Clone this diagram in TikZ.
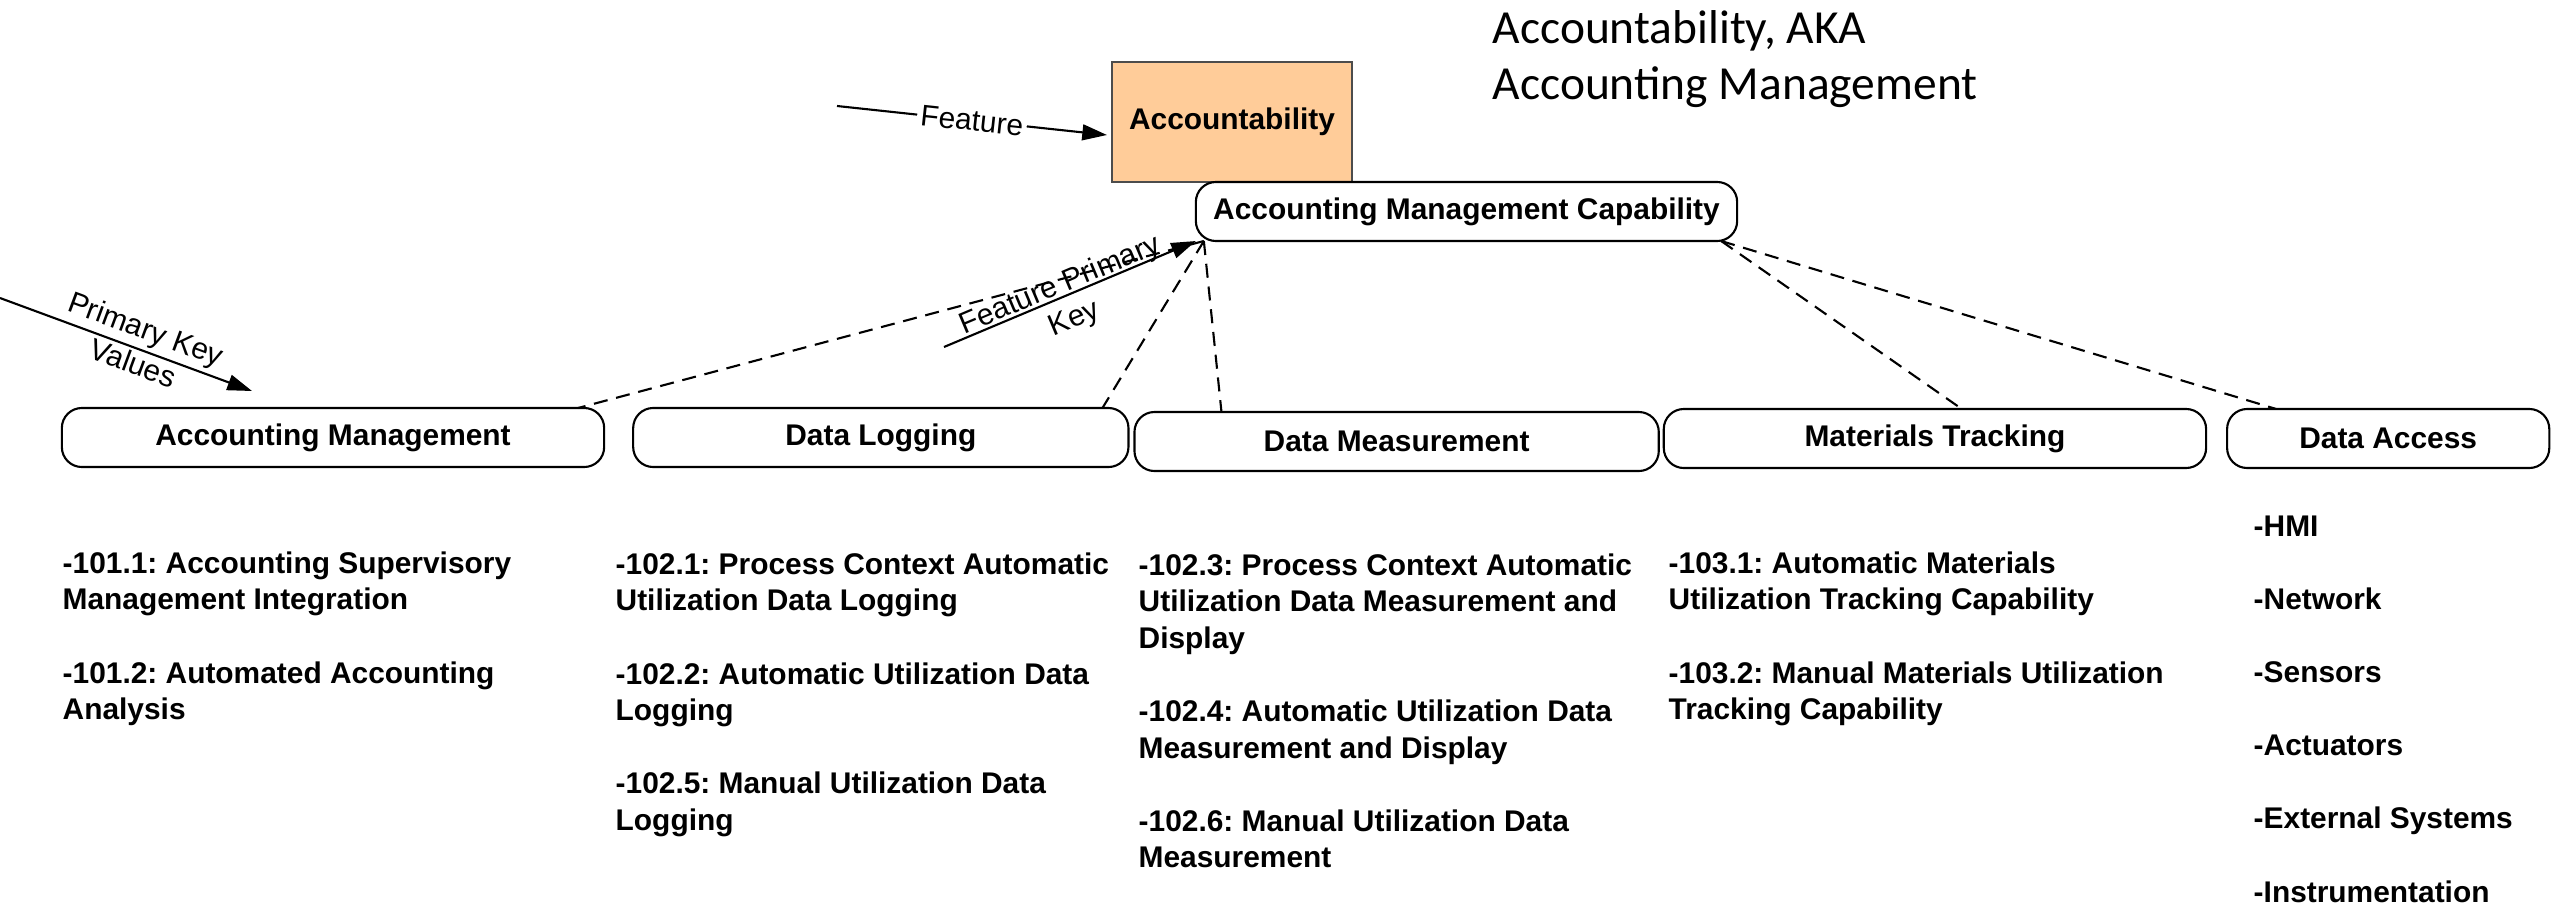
\documentclass[tikz,border=0pt]{standalone}
\usepackage{fontspec}
\setmainfont{Liberation Sans}
\newfontfamily\titlefont{Carlito}
\usetikzlibrary{positioning, arrows.meta, calc}
\frenchspacing

\definecolor{featfill}{RGB}{255,204,153}

\tikzset{
  bodyfont/.style={font=\fontsize{8.5}{10.4}\selectfont},
  capbox/.style={draw, rounded corners=0.2cm, minimum height=0.59cm, outer sep=0pt, line width=0.6pt, font=\bfseries\fontsize{8.5}{10.4}\selectfont},
  featbox/.style={draw=black!70, fill=featfill, minimum width=2.4cm, minimum height=1.2cm, outer sep=0pt, line width=0.6pt, font=\bfseries\fontsize{8.5}{10.4}\selectfont},
  reqlist/.style={anchor=north west, align=left, inner sep=0pt, font=\bfseries\fontsize{8.5}{10.4}\selectfont},
  link/.style={dash pattern=on 4pt off 2.5pt, line width=0.6pt},
  keyarrow/.style={-{Triangle[length=7pt,width=4.5pt]}, line width=0.6pt}
}

\begin{document}
\begin{tikzpicture}[x=0.01cm, y=-0.01cm]
        \useasboundingbox (0,0) rectangle (2552,903);

        \node[anchor=north west, align=left, inner sep=0pt, font=\titlefont\fontsize{13.5}{15.8}\selectfont] (title) at (1492,10) {Accountability, AKA\\Accounting Management};

        \node[featbox] (acct) at (1232,122) {Accountability};
        \node[capbox, minimum width=5.41cm] (cap) at (1466.5,211.5) {Accounting Management Capability};

        \node[capbox, minimum width=5.42cm] (accmgmt) at (333,437.5) {Accounting Management};
        \node[capbox, minimum width=4.95cm] (datalog) [right=0.29cm of accmgmt] {Data Logging};
        \node[capbox, minimum width=5.24cm] (datameas) [right=0.06cm of datalog, yshift=-0.04cm] {Data Measurement};
        \node[capbox, minimum width=5.42cm] (mattrack) [right=0.05cm of datameas, yshift=0.03cm] {Materials Tracking};
        \node[capbox, minimum width=3.22cm] (dataaccess) [right=0.21cm of mattrack] {Data Access};

        \node[reqlist] (req101) at (62,551) {-101.1: Accounting Supervisory\\Management Integration\\[10.4pt]-101.2: Automated Accounting\\Analysis};
        \node[reqlist] (req102a) at (615,552) {-102.1: Process Context Automatic\\Utilization Data Logging\\[10.4pt]-102.2: Automatic Utilization Data\\Logging\\[10.4pt]-102.5: Manual Utilization Data\\Logging};
        \node[reqlist] (req102b) at (1138,553) {-102.3: Process Context Automatic\\Utilization Data Measurement and\\Display\\[10.4pt]-102.4: Automatic Utilization Data\\Measurement and Display\\[10.4pt]-102.6: Manual Utilization Data\\Measurement};
        \node[reqlist] (req103) at (1668,551) {-103.1: Automatic Materials\\Utilization Tracking Capability\\[10.4pt]-103.2: Manual Materials Utilization\\Tracking Capability};
        \node[reqlist] (access) at (2253,515) {-HMI\\[10.4pt]-Network\\[10.4pt]-Sensors\\[10.4pt]-Actuators\\[10.4pt]-External Systems\\[10.4pt]-Instrumentation};

        \coordinate (fstart) at (837,106);
        \coordinate (pkstart) at (0,298);
        \coordinate (pkend) at (252,391);
        \coordinate (fpkstart) at (944,347);
        \coordinate (capL) at ($(cap.south west)+(8,0)$);
        \coordinate (capR) at ($(cap.south east)+(-16,0)$);

        \draw[keyarrow] (fstart) -- node[sloped, fill=white, inner sep=1pt, bodyfont] {Feature} ($(acct.west)+(-5,13)$);
        \draw[keyarrow] (pkstart) -- node[sloped, align=center, pos=0.55, yshift=1pt, inner sep=0pt, bodyfont] {Primary Key\\Values} (pkend);
        \draw[keyarrow] (fpkstart) -- node[sloped, align=center, pos=0.48, yshift=-2pt, inner sep=0pt, bodyfont] {Feature Primary\\Key} (cap.south west);

        \draw[link] (capL) -- ($(accmgmt.north east)+(-26,0)$);
        \draw[link] (capL) -- ($(datalog.north east)+(-26,0)$);
        \draw[link] (capL) -- ($(datameas.north west)+(87,0)$);
        \draw[link] (capR) -- ($(mattrack.north west)+(298,0)$);
        \draw[link] (capR) -- ($(dataaccess.north west)+(49,0)$);
\end{tikzpicture}
\end{document}
